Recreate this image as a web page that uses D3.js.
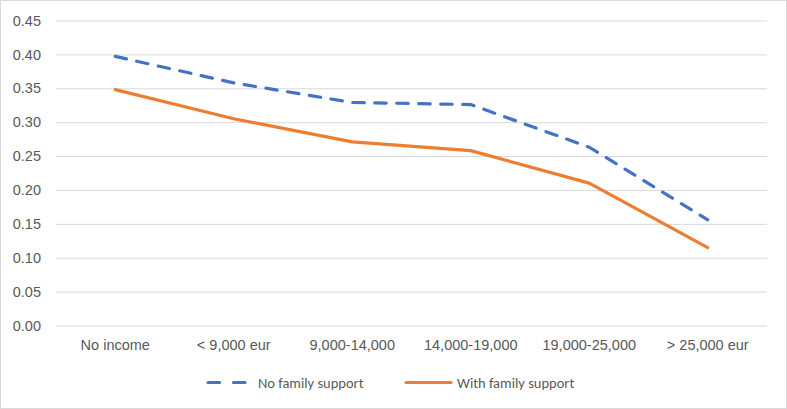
<!DOCTYPE html>
<html>
<head>
<meta charset="utf-8">
<script src="https://cdn.jsdelivr.net/npm/d3@7"></script>
<style>
  html, body { margin: 0; padding: 0; background: #fff; }
  svg { display: block; font-family: Calibri, Carlito, "Liberation Sans", Arial, sans-serif; }
</style>
</head>
<body>
<div id="chart"></div>
<script>
// categories on the x axis
const categories = ["No income", "< 9,000 eur", "9,000-14,000", "14,000-19,000", "19,000-25,000", "> 25,000 eur"]
// series values
const noSupport = [0.397, 0.358, 0.329, 0.326, 0.263, 0.156]
const withSupport = [0.348, 0.305, 0.271, 0.258, 0.210, 0.115]
const seriesNames = ["No family support", "With family support"]
const yTicks = [0, 0.05, 0.10, 0.15, 0.20, 0.25, 0.30, 0.35, 0.40, 0.45]

const width = 787, height = 409
const margin = { top: 20.5, right: 20, bottom: 83.5, left: 56 }

const svg = d3.select("#chart").append("svg")
    .attr("width", width)
    .attr("height", height)

// outer border of the chart area
svg.append("rect")
    .attr("x", 0.5).attr("y", 0.5)
    .attr("width", width - 1).attr("height", height - 1)
    .attr("fill", "#fff")
    .attr("stroke", "#d9d9d9")

const x = d3.scaleBand()
    .domain(categories)
    .range([margin.left, width - margin.right])

const y = d3.scaleLinear()
    .domain([0, 0.45])
    .range([height - margin.bottom, margin.top])

// gridlines + y labels
const yAxis = svg.append("g")
    .attr("transform", `translate(${margin.left},0)`)
    .call(d3.axisLeft(y).tickValues(yTicks).tickFormat(d3.format(".2f"))
        .tickSize(-(width - margin.left - margin.right)).tickPadding(15))
yAxis.select(".domain").remove()
yAxis.selectAll("line").attr("stroke", "#d9d9d9").attr("stroke-width", 1)
yAxis.selectAll("text")
    .attr("fill", "#595959")
    .style("font-size", "14.5px")

// x labels
const xAxis = svg.append("g")
    .attr("transform", `translate(0,${y(0)})`)
    .call(d3.axisBottom(x).tickSize(0).tickPadding(14))
xAxis.select(".domain").remove()
xAxis.selectAll("text")
    .attr("fill", "#595959")
    .style("font-size", "14.5px")

const line = d3.line()
    .x((d, i) => x(categories[i]) + x.bandwidth() / 2)
    .y(d => y(d))

svg.append("path")
    .datum(noSupport)
    .attr("d", line)
    .attr("fill", "none")
    .attr("stroke", "#4472c4")
    .attr("stroke-width", 3.2)
    .attr("stroke-dasharray", "11.5,10.5")
    .attr("stroke-linecap", "round")
    .attr("stroke-linejoin", "round")

svg.append("path")
    .datum(withSupport)
    .attr("d", line)
    .attr("fill", "none")
    .attr("stroke", "#ed7d31")
    .attr("stroke-width", 3.2)
    .attr("stroke-linecap", "round")
    .attr("stroke-linejoin", "round")

// legend
const legendY = 382.5
const legend = svg.append("g")

legend.append("line")
    .attr("x1", 208).attr("x2", 249)
    .attr("y1", legendY).attr("y2", legendY)
    .attr("stroke", "#4472c4")
    .attr("stroke-width", 3.2)
    .attr("stroke-dasharray", "11.5,14")
    .attr("stroke-linecap", "round")
legend.append("text")
    .attr("x", 258).attr("y", legendY + 5)
    .attr("fill", "#595959")
    .style("font-size", "14.5px")
    .text(seriesNames[0])

legend.append("line")
    .attr("x1", 406).attr("x2", 451)
    .attr("y1", legendY).attr("y2", legendY)
    .attr("stroke", "#ed7d31")
    .attr("stroke-width", 3.2)
    .attr("stroke-linecap", "round")
legend.append("text")
    .attr("x", 457).attr("y", legendY + 5)
    .attr("fill", "#595959")
    .style("font-size", "14.5px")
    .text(seriesNames[1])
</script>
</body>
</html>
